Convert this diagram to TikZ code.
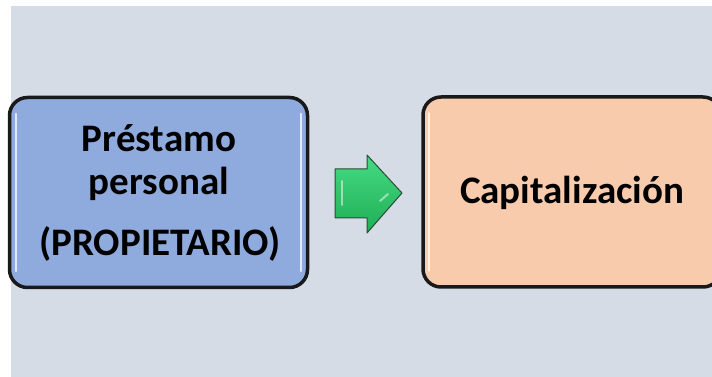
\documentclass[tikz,border=0pt]{standalone}
\usepackage{fontspec}
\setmainfont{Carlito}
\definecolor{slide}{HTML}{D6DCE5}
\definecolor{boxblue}{HTML}{8FAADC}
\definecolor{boxpeach}{HTML}{F8CBAD}
\definecolor{arrowlight}{HTML}{45DB83}
\definecolor{arrowdark}{HTML}{1FAE55}
\definecolor{arrowedge}{HTML}{2E4A38}
\tikzset{
  stepbox/.style={draw=black!90, line width=3.5pt, rounded corners=18pt,
    minimum width=298pt, minimum height=190pt, inner sep=0pt},
  boxtext/.style={font=\fontsize{39}{45}\selectfont\bfseries, anchor=base, inner sep=0pt, text=black},
  gloss/.style={white, line width=2pt, opacity=0.75, line cap=round}
}
\begin{document}
\begin{tikzpicture}[x=1pt,y=1pt]
  \useasboundingbox (0,0) rectangle (712,377);
  \fill[white] (0,0) rectangle (712,377);
  \fill[slide] (11,0) rectangle (712,371);

  % first step
  \node[stepbox, fill=boxblue] (loan) at (158.5,184.5) {};
  \draw[gloss] ([shift={(8,-18)}]loan.north west) -- ([shift={(8,18)}]loan.south west);
  \draw[gloss] ([shift={(-8,-18)}]loan.north east) -- ([shift={(-8,18)}]loan.south east);
  \node[boxtext] (loan1) at (159,225) {Préstamo};
  \node[boxtext] (loan2) at (159,182) {personal};
  \node[boxtext] (loan3) at (160,121) {(PROPIETARIO)};

  % second step
  \node[stepbox, fill=boxpeach] (cap) at (572,185) {};
  \draw[gloss] ([shift={(8,-18)}]cap.north west) -- ([shift={(8,18)}]cap.south west);
  \node[boxtext] (captext) at (572,173) {Capitalización};

  % block arrow between the steps
  \draw[arrowedge, line width=1pt, top color=arrowlight, bottom color=arrowdark, line join=round]
    (335,208) -- (367,208) -- (367,222) -- (402,184) -- (367,144) -- (367,159)
    -- (335,159) -- cycle;
  \draw[white, opacity=0.5, line width=2pt, line cap=round] (342,196) -- (342,172);
  \draw[white, opacity=0.5, line width=2pt, line cap=round] (380,176) -- (388,183);
\end{tikzpicture}
\end{document}
